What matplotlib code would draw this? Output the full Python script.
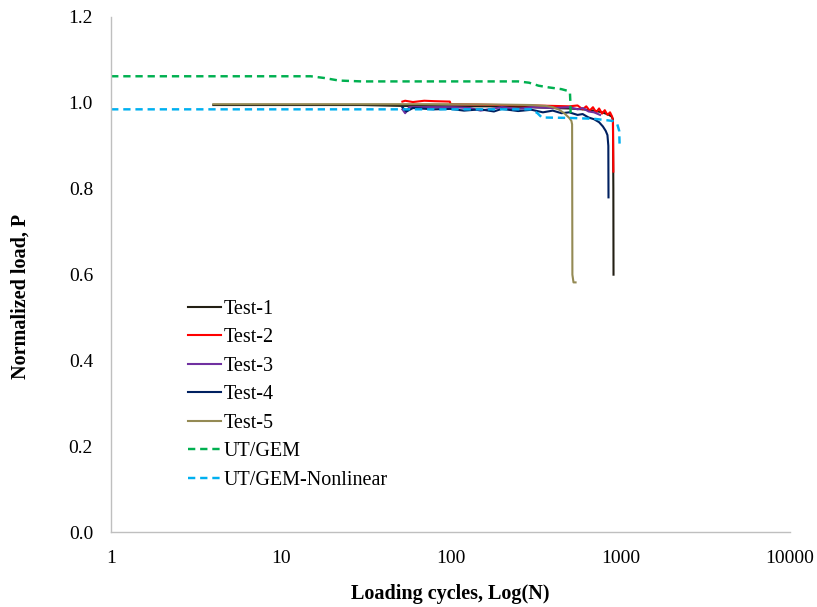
import matplotlib
matplotlib.use('Agg')
import matplotlib.pyplot as plt

# loading cycles (N) and normalized load (P) for each test
n_test1 = [4, 10, 30, 52, 100, 200, 300, 400, 500, 600, 700, 780, 850, 890, 905, 910, 912]
p_test1 = [0.995, 0.995, 0.995, 0.993, 0.992, 0.992, 0.990, 0.988, 0.987, 0.985, 0.982, 0.978, 0.973, 0.968, 0.962, 0.80, 0.60]

n_test2 = [52, 54, 60, 70, 80, 99, 100, 150, 200, 300, 400, 500, 560, 600, 630, 660, 690, 720, 750, 780, 810, 840, 870, 895, 905, 910]
p_test2 = [1.003, 1.005, 1.002, 1.005, 1.004, 1.003, 0.997, 0.996, 0.995, 0.994, 0.993, 0.992, 0.994, 0.985, 0.992, 0.982, 0.990, 0.978, 0.987, 0.975, 0.983, 0.972, 0.978, 0.968, 0.958, 0.84]

n_test3 = [52, 54, 57, 70, 100, 130, 150, 200, 250, 300, 400, 500, 560, 600, 650, 700, 760]
p_test3 = [0.985, 0.976, 0.990, 0.990, 0.990, 0.988, 0.982, 0.990, 0.986, 0.990, 0.988, 0.990, 0.985, 0.988, 0.980, 0.978, 0.972]

n_test4 = [52, 55, 60, 80, 100, 120, 150, 180, 200, 250, 300, 350, 400, 450, 500, 560, 600, 650, 700, 750, 790, 820, 840, 850, 852]
p_test4 = [0.990, 0.980, 0.988, 0.985, 0.986, 0.982, 0.985, 0.980, 0.986, 0.981, 0.984, 0.978, 0.982, 0.976, 0.978, 0.972, 0.974, 0.966, 0.962, 0.955, 0.945, 0.935, 0.925, 0.90, 0.78]

n_test5 = [4, 10, 50, 100, 200, 300, 364, 400, 437, 470, 500, 515, 520, 522, 530, 545]
p_test5 = [0.997, 0.997, 0.997, 0.997, 0.996, 0.995, 0.993, 0.990, 0.984, 0.975, 0.965, 0.958, 0.950, 0.60, 0.582, 0.582]

n_utgem = [1, 15, 18, 22, 30, 100, 250, 290, 330, 380, 450, 490, 505, 508, 510]
p_utgem = [1.062, 1.062, 1.058, 1.052, 1.050, 1.050, 1.050, 1.047, 1.040, 1.036, 1.032, 1.028, 1.024, 1.000, 0.966]

n_nonlin = [1, 100, 300, 325, 345, 500, 700, 900, 960, 985, 990]
p_nonlin = [0.985, 0.985, 0.985, 0.976, 0.966, 0.965, 0.963, 0.958, 0.950, 0.935, 0.905]

xticks = [1, 10, 100, 1000, 10000]
yticks = [0, 0.2, 0.4, 0.6, 0.8, 1.0, 1.2]

plt.rcParams['font.family'] = 'Liberation Serif'

fig, ax = plt.subplots(figsize=(8.17, 6.07), dpi=100)
fig.subplots_adjust(left=0.136, right=0.967, bottom=0.123, top=0.972)

ax.plot(n_test1, p_test1, color='#231f14', lw=1.5, label='Test-1')
ax.plot(n_test2, p_test2, color='#ff0000', lw=1.5, label='Test-2')
ax.plot(n_test3, p_test3, color='#7030a0', lw=1.5, label='Test-3')
ax.plot(n_test4, p_test4, color='#002060', lw=1.5, label='Test-4')
ax.plot(n_test5, p_test5, color='#948a54', lw=1.5, label='Test-5')
ax.plot(n_utgem, p_utgem, color='#00b050', lw=1.75, ls=(0, (3, 2)), label='UT/GEM')
ax.plot(n_nonlin, p_nonlin, color='#00b0f0', lw=1.75, ls=(0, (3, 2)), label='UT/GEM-Nonlinear')

ax.set_xscale('log')
ax.set_xlim(1, 10000)
ax.set_ylim(0, 1.2)
ax.set_xticks(xticks)
ax.set_xticklabels([str(v) for v in xticks])
ax.minorticks_off()
ax.set_yticks(yticks)
ax.set_yticklabels(['%.1f' % v for v in yticks])
ax.tick_params(length=0, labelsize=14)
ax.tick_params(axis='y', pad=13)
ax.tick_params(axis='x', pad=13)

for s in ['top', 'right']:
    ax.spines[s].set_visible(False)
for s in ['left', 'bottom']:
    ax.spines[s].set_color('#bfbfbf')
    ax.spines[s].set_linewidth(1.0)

ax.set_xlabel('Loading cycles, Log(N)', fontsize=14.5, fontweight='bold')
ax.set_ylabel('Normalized load, P', fontsize=14.5, fontweight='bold')
ax.xaxis.set_label_coords(0.5, -0.101)
ax.yaxis.set_label_coords(-0.119, 0.457)

ax.legend(loc='center left', bbox_to_anchor=(0.113, 0.267), frameon=False, fontsize=14.5,
          borderpad=0, borderaxespad=0, handlelength=1.64, handletextpad=0.15, labelspacing=0.47)

plt.savefig('out.png', dpi=100)
plt.close()
